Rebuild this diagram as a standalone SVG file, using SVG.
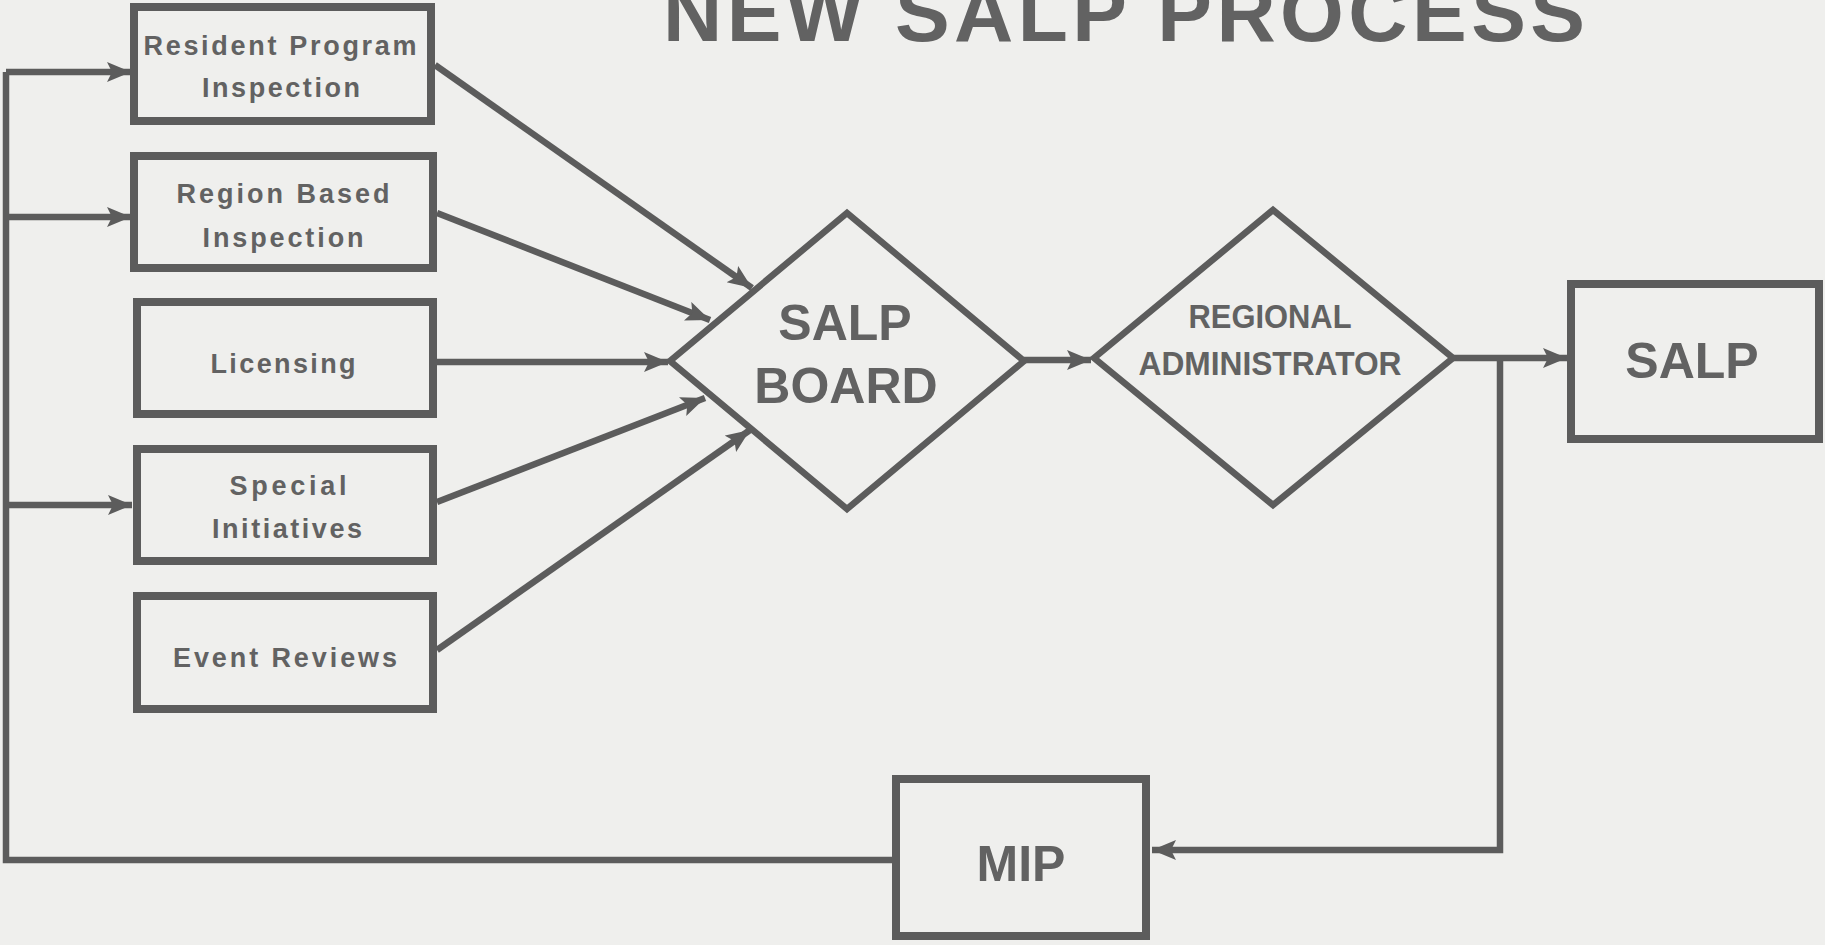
<svg xmlns="http://www.w3.org/2000/svg" width="1825" height="945" viewBox="0 0 1825 945">
<defs>
<style>
.box{fill:none;stroke:#5c5c5c;stroke-width:8}
.dia{fill:none;stroke:#5c5c5c;stroke-width:6.5;stroke-linejoin:miter}
.ln{fill:none;stroke:#5c5c5c;stroke-width:6.5}
.t{font-family:"Liberation Sans",Arial,sans-serif;font-weight:bold;fill:#626262;text-anchor:middle}
.s{font-size:27px}
.b{font-size:50px}
.r{font-size:34px}
</style>
<marker id="ah" markerUnits="userSpaceOnUse" markerWidth="28" markerHeight="24" refX="24" refY="10" orient="auto">
<path d="M0,0 L24,10 L0,20 L5,10 Z" fill="#5c5c5c"/>
</marker>
</defs>
<rect width="1825" height="945" fill="#efefed"/>
<text class="t" x="1124" y="41" font-size="82" textLength="922" lengthAdjust="spacing">NEW SALP PROCESS</text>
<g id="connectors">
<path class="ln" d="M6,72 V860 H896"/>
<path class="ln" d="M6,72 H131" marker-end="url(#ah)"/>
<path class="ln" d="M6,217 H131" marker-end="url(#ah)"/>
<path class="ln" d="M6,505 H132" marker-end="url(#ah)"/>
<path class="ln" d="M435,65 L752,288" marker-end="url(#ah)"/>
<path class="ln" d="M437,213 L710,320" marker-end="url(#ah)"/>
<path class="ln" d="M437,362 L668,362" marker-end="url(#ah)"/>
<path class="ln" d="M437,502 L705,398" marker-end="url(#ah)"/>
<path class="ln" d="M437,650 L750,430" marker-end="url(#ah)"/>
<path class="ln" d="M1024,360 L1091,360" marker-end="url(#ah)"/>
<path class="ln" d="M1453,358 L1567,358" marker-end="url(#ah)"/>
<path class="ln" d="M1500,358 V850 H1152" marker-end="url(#ah)"/>
</g>
<g id="resident">
<rect class="box" x="134" y="7" width="297" height="114"/>
<text class="t s" x="280" y="55" textLength="273" lengthAdjust="spacing">Resident Program</text>
<text class="t s" x="281" y="97" textLength="158" lengthAdjust="spacing">Inspection</text>
</g>
<g id="region">
<rect class="box" x="134" y="156" width="299" height="112"/>
<text class="t s" x="283" y="203" textLength="213" lengthAdjust="spacing">Region Based</text>
<text class="t s" x="283" y="247" textLength="161" lengthAdjust="spacing">Inspection</text>
</g>
<g id="licensing">
<rect class="box" x="137" y="302" width="296" height="112"/>
<text class="t s" x="283" y="373" textLength="145" lengthAdjust="spacing">Licensing</text>
</g>
<g id="special">
<rect class="box" x="137" y="449" width="296" height="112"/>
<text class="t s" x="288" y="495" textLength="117" lengthAdjust="spacing">Special</text>
<text class="t s" x="287" y="538" textLength="150" lengthAdjust="spacing">Initiatives</text>
</g>
<g id="event">
<rect class="box" x="137" y="596" width="296" height="113"/>
<text class="t s" x="285" y="667" textLength="224" lengthAdjust="spacing">Event Reviews</text>
</g>
<g id="salpboard">
<path class="dia" d="M670,361 L847,213 L1024,361 L847,509 Z"/>
<text class="t b" x="845" y="340">SALP</text>
<text class="t b" x="846" y="403">BOARD</text>
</g>
<g id="regional">
<path class="dia" d="M1094,358 L1273,210 L1453,358 L1273,505 Z"/>
<text class="t r" x="1270" y="328" textLength="163" lengthAdjust="spacingAndGlyphs">REGIONAL</text>
<text class="t r" x="1270" y="375" textLength="263" lengthAdjust="spacingAndGlyphs">ADMINISTRATOR</text>
</g>
<g id="salp">
<rect class="box" x="1571" y="284" width="248" height="155"/>
<text class="t b" x="1692" y="378">SALP</text>
</g>
<g id="mip">
<rect class="box" x="896" y="779" width="250" height="157"/>
<text class="t b" x="1021" y="881">MIP</text>
</g>
</svg>
